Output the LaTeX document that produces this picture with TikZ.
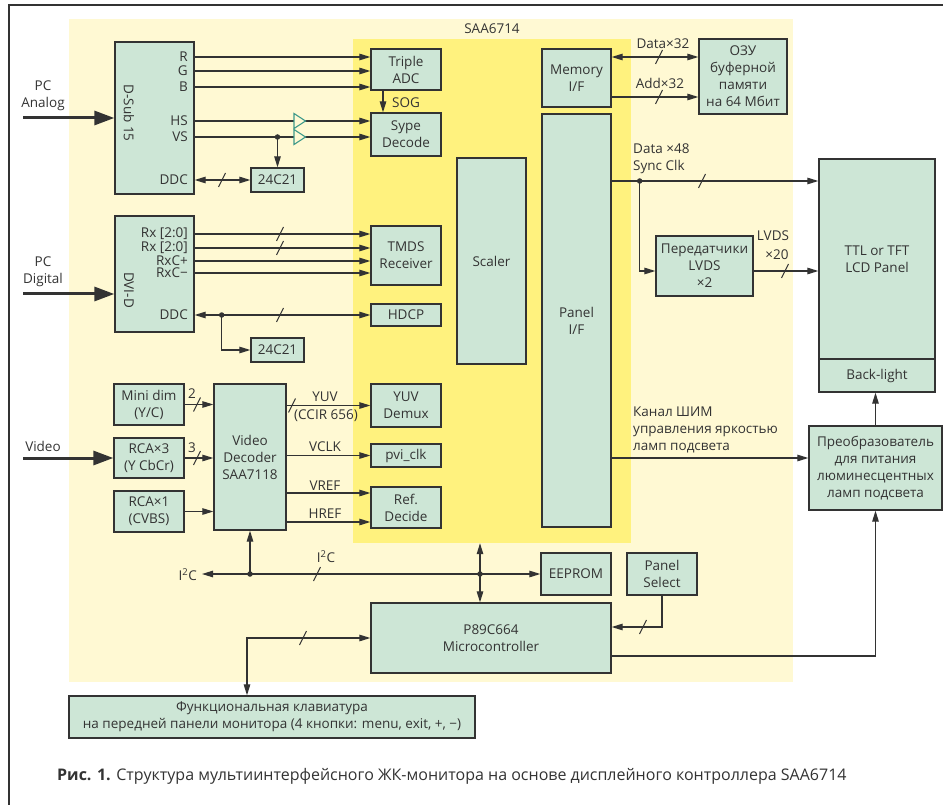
\documentclass[tikz,border=0pt]{standalone}
\usepackage{fontspec}
\setmainfont{Open Sans}
\usetikzlibrary{arrows.meta,calc}
\definecolor{ink}{HTML}{333333}
\definecolor{paleY}{HTML}{FFF9D3}
\definecolor{chipY}{HTML}{FFF27E}
\definecolor{boxG}{HTML}{CDE6D6}
\definecolor{bufT}{HTML}{3F9A8A}
\newcommand\fsz{\fontsize{13.5}{17}\selectfont}
\newcommand\mybox[6]{\node[box,minimum width={#4-#2},minimum height={#5-#3}] (#1) at ({(#2+#4)/2},{(#3+#5)/2}) {#6};}
\begin{document}
\begin{tikzpicture}[x=1pt,y=-1pt,
 every node/.style={font=\fsz,text=ink,inner sep=0pt},
 box/.style={draw=ink,fill=boxG,line width=1.3pt,align=center},
 conn/.style={draw=ink,line width=1.2pt,-{Triangle[length=11pt,width=6.5pt]}},
 conn2/.style={draw=ink,line width=1.2pt,{Triangle[length=11pt,width=6.5pt]}-{Triangle[length=11pt,width=6.5pt]}},
 fat/.style={draw=ink,line width=3pt,-{Triangle[length=20pt,width=14pt]}},
 dot/.style={circle,fill=ink,minimum size=5.5pt,inner sep=0pt},
 lab/.style={anchor=east},
 buf/.style={draw=bufT,fill=paleY,line width=1.1pt,line join=miter},
 busslash/.pic={\draw[ink,line width=1.1pt] (-3.5,7)--(3.5,-7);},
]
\useasboundingbox (0,0) rectangle (943,805);
% frame
\draw[ink,line width=1.3pt] (943,5) -- (9,5) -- (9,805);
% backgrounds
\node[fill=paleY,minimum width=724,minimum height=663] (pale) at (431,350.5) {};
\node[fill=chipY,minimum width=278,minimum height=504] (chip) at (492,291) {};
\node (saa) at (492,29) {SAA6714};

% ---- boxes
\mybox{dsub}{115}{42}{194}{194}{}
\mybox{dvi}{115}{216}{194}{332}{}
\mybox{eepa}{251}{168}{304}{192}{24C21}
\mybox{eepb}{251}{338}{304}{362}{24C21}
\mybox{adc}{371}{49}{441}{90}{Triple\\ADC}
\mybox{sync}{371}{113}{441}{156}{Sype\\Decode}
\mybox{tmds}{371}{226}{441}{285}{TMDS\\Receiver}
\mybox{hdcp}{371}{304}{441}{326}{HDCP}
\mybox{scaler}{457}{158}{526}{364}{Scaler}
\mybox{mem}{542}{49}{611}{107}{Memory\\I/F}
\mybox{panelif}{542}{114}{611}{527}{Panel\\I/F}
\mybox{ram}{699}{39}{787}{114}{ОЗУ\\буферной\\памяти\\на 64 Мбит}
\mybox{lvds}{656}{236}{753}{296}{Передатчики\\LVDS\\×2}
\mybox{lcdtop}{819}{159}{935}{359}{TTL or TFT\\LCD Panel}
\mybox{backlight}{819}{359}{935}{392}{Back-light}
\mybox{conv}{809}{426}{942}{510}{Преобразователь\\для питания\\люминесцентных\\ламп подсвета}
\mybox{minidim}{114}{384}{184}{425}{Mini dim\\(Y/C)}
\mybox{rcathree}{114}{438}{184}{478}{RCA×3\\(Y CbCr)}
\mybox{rcaone}{114}{491}{184}{532}{RCA×1\\(CVBS)}
\mybox{vdec}{214}{384}{286}{530}{Video\\Decoder\\SAA7118}
\mybox{yuv}{371}{384}{441}{427}{YUV\\Demux}
\mybox{pvi}{371}{444}{441}{467}{pvi\_clk}
\mybox{ref}{371}{487}{441}{528}{Ref.\\Decide}
\mybox{eeprom}{541}{553}{611}{595}{EEPROM}
\mybox{psel}{627}{553}{697}{595}{Panel\\Select}
\mybox{mcu}{371}{603}{611}{673}{P89C664\\Microcontroller}
\mybox{kbd}{69}{696}{475}{738}{Функциональная клавиатура\\на передней панели монитора (4 кнопки: menu, exit, +, −)}

% rotated connector names
\node[rotate=-90] (tdsub) at (129,113) {D-Sub 15};
\node[rotate=-90] (tdvi) at (129,290) {DVI-D};

% pin labels
\node[lab] (lR) at (188,57) {R};
\node[lab] (lG) at (188,71) {G};
\node[lab] (lB) at (188,87) {B};
\node[lab] (lHS) at (188,121) {HS};
\node[lab] (lVS) at (188,137) {VS};
\node[lab] (lDDA) at (188,180) {DDC};
\node[lab] (lRxa) at (188,234) {Rx [2:0]};
\node[lab] (lRxb) at (188,248) {Rx [2:0]};
\node[lab] (lRxp) at (188,261) {RxC+};
\node[lab] (lRxm) at (188,273) {RxC−};
\node[lab] (lDDB) at (188,315) {DDC};

% inputs
\node[align=center] (tpca) at (43,96) {PC\\Analog};
\node[align=center] (tpcd) at (43,271.5) {PC\\Digital};
\node (tvid) at (43,446) {Video};
\coordinate (inA) at (23,118);
\coordinate (inD) at (23,294);
\coordinate (inV) at (23,458);
\draw[fat] (inA) -- (inA -| dsub.west);
\draw[fat] (inD) -- (inD -| dvi.west);
\draw[fat] (inV) -- (inV -| rcathree.west);

% analog
\draw[conn] (dsub.east |- lR) -- (adc.west |- lR);
\draw[conn] (dsub.east |- lG) -- (adc.west |- lG);
\draw[conn] (dsub.east |- lB) -- (adc.west |- lB);
\draw[conn] (dsub.east |- lHS) -- (sync.west |- lHS);
\draw[conn] (dsub.east |- lVS) -- (sync.west |- lVS);
\draw[buf] (294,113.5) -- (305.5,121) -- (294,128.5) -- cycle;
\draw[buf] (294,129.5) -- (305.5,137) -- (294,144.5) -- cycle;
\coordinate (vsd) at (eepa.north |- lVS);
\draw[conn] (vsd) -- (eepa.north);
\node[dot] at (vsd) {};
\draw[conn2] (dsub.east |- lDDA) -- (eepa.west |- lDDA);
\pic at (222,180) {busslash};
\draw[conn] ([xshift=-23pt]adc.south) -- ([xshift=-23pt]sync.north);
\node[anchor=west] (tsog) at (392,103) {SOG};

% digital
\draw[conn] (dvi.east |- lRxa) -- (tmds.west |- lRxa);
\draw[conn] (dvi.east |- lRxb) -- (tmds.west |- lRxb);
\draw[conn] (dvi.east |- lRxp) -- (tmds.west |- lRxp);
\draw[conn] (dvi.east |- lRxm) -- (tmds.west |- lRxm);
\pic at (280,234) {busslash};
\pic at (280,248) {busslash};
\draw[conn2] (dvi.east |- lDDB) -- (hdcp.west |- lDDB);
\pic at (280,315) {busslash};
\path (dvi.east |- lDDB) ++(27,0) coordinate (dd);
\draw[conn] (dd) |- (eepb.west);
\node[dot] at (dd) {};

% video
\draw[conn] (minidim.east) -- (minidim.east -| vdec.west);
\draw[conn] (rcathree.east) -- (rcathree.east -| vdec.west);
\draw[conn] (rcaone.east) -- (rcaone.east -| vdec.west);
\pic at (197,404.5) {busslash};
\pic at (197,458) {busslash};
\node (t2) at (192,394) {2};
\node (t3) at (192,448) {3};
\draw[conn] (yuv.west -| vdec.east) -- (yuv.west);
\pic at (292,405.5) {busslash};
\node (tyuv) at (325,397) {YUV};
\node (tccir) at (326,416) {(CCIR 656)};
\draw[conn] (pvi.west -| vdec.east) -- (pvi.west);
\node (tvclk) at (325,447) {VCLK};
\coordinate (vr) at ([yshift=14.5pt]ref.west);
\coordinate (hr) at ([yshift=-14.5pt]ref.west);
\draw[conn] (vr -| vdec.east) -- (vr);
\draw[conn] (hr -| vdec.east) -- (hr);
\node (tvref) at (325,486) {VREF};
\node (thref) at (325,514) {HREF};

% memory
\coordinate (md) at ([yshift=21pt]mem.east);
\coordinate (ma) at ([yshift=-19pt]mem.east);
\draw[conn2] (md) -- (md -| ram.west);
\draw[conn] (ma) -- (ma -| ram.west);
\pic at (659,57) {busslash};
\pic at (659,97) {busslash};
\node (tdata) at (663,44) {Data×32};
\node (tadd) at (660,83) {Add×32};

% panel outputs
\coordinate (pd) at ([yshift=139.5pt]panelif.east);
\path (pd) ++(28,0) coordinate (pdot);
\draw[conn] (pd) -- (pd -| lcdtop.west);
\draw[conn] (pdot) |- ([yshift=-5pt]lvds.west);
\node[dot] at (pdot) {};
\pic at (702,181) {busslash};
\node[anchor=west,align=left] (td48) at (633,158.5) {Data ×48\\Sync Clk};
\coordinate (lo) at ([yshift=-5pt]lvds.east);
\draw[conn] (lo) -- (lo -| lcdtop.west);
\pic at (785,271) {busslash};
\node (tlv) at (773,236) {LVDS};
\node (tlv2) at (777,255) {×20};
\coordinate (pw) at ([yshift=-137.5pt]panelif.east);
\draw[conn] (pw) -- (pw -| conv.west);
\node[anchor=west,align=left] (tpwm) at (633,430) {Канал ШИМ\\управления яркостью\\ламп подсвета};
\draw[conn] (conv.north) -- (conv.north |- backlight.south);

% I2C bus
\coordinate (dot1) at (vdec.south |- eeprom.west);
\coordinate (dot2) at (480,0 |- eeprom.west);
\coordinate (i2cL) at (202,0 |- eeprom.west);
\draw[conn] (dot1) -- (vdec.south);
\draw[conn] (dot1) -- (i2cL);
\draw[conn] (dot1) -- (eeprom.west);
\draw[conn] (dot2) -- (dot2 |- chip.south);
\draw[conn] (dot2) -- (dot2 |- mcu.north);
\node[dot] at (dot1) {};
\node[dot] at (dot2) {};
\pic at (317,574) {busslash};
\node[anchor=east] (ti2c) at (197,575) {I\textsuperscript{2}C};
\node (ti2cb) at (326,557) {I\textsuperscript{2}C};

% microcontroller
\draw[conn] (psel.south) |- ([yshift=11pt]mcu.east);
\pic at (643,627) {busslash};
\draw[conn] ([yshift=-18pt]mcu.east) -| (conv.south);
\draw[conn2] (mcu.west) -| ([xshift=-25pt]kbd.north);
\pic at (303,638) {busslash};

% caption
\node[anchor=west] (cap) at (57,776) {\fontsize{16}{19}\selectfont\textbf{Рис. 1.} Структура мультиинтерфейсного ЖК-монитора на основе дисплейного контроллера SAA6714};
\end{tikzpicture}
\end{document}
